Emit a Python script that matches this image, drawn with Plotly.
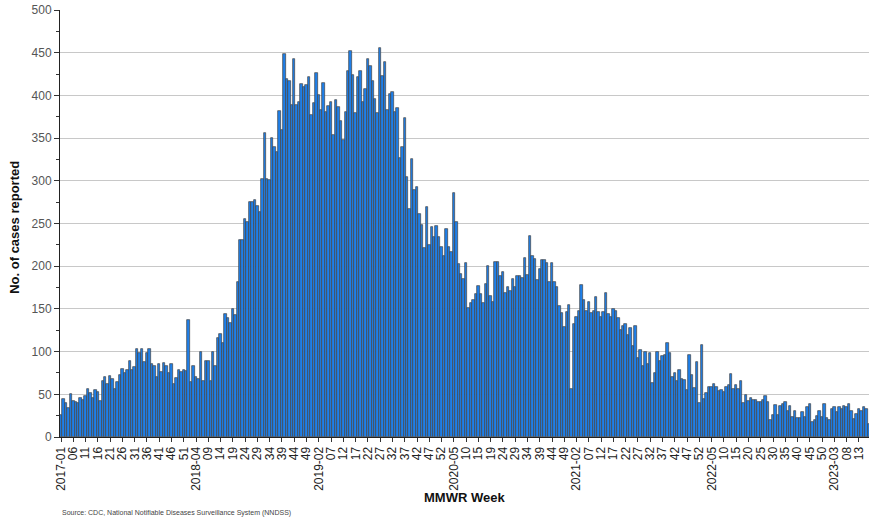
import plotly.graph_objects as go

# ---- data ----
years = [2017, 2018, 2019, 2020, 2021, 2022, 2023]
weeks_in_year = [52, 52, 52, 53, 52, 52, 17]

cases = [
    # 2017
    26, 45, 40, 34, 50, 42, 41, 40, 46, 43,
    48, 56, 52, 46, 55, 53, 42, 66, 70, 62,
    72, 68, 56, 64, 73, 80, 75, 78, 89, 78,
    82, 103, 98, 103, 88, 98, 103, 86, 83, 70,
    85, 76, 87, 83, 75, 86, 62, 69, 78, 76,
    79, 77,
    # 2018
    137, 64, 83, 70, 68, 100, 66, 89, 89, 66,
    100, 83, 116, 121, 110, 144, 139, 133, 150, 143,
    182, 231, 231, 255, 252, 275, 275, 277, 271, 263,
    302, 356, 302, 301, 350, 339, 334, 382, 360, 449,
    419, 417, 389, 443, 389, 392, 413, 410, 412, 421,
    377, 391,
    # 2019
    426, 401, 383, 414, 381, 388, 392, 354, 395, 386,
    370, 348, 380, 428, 452, 424, 379, 422, 428, 392,
    408, 443, 435, 417, 396, 379, 456, 423, 439, 383,
    402, 404, 381, 385, 327, 339, 373, 304, 267, 326,
    289, 293, 261, 248, 221, 269, 225, 246, 234, 247,
    234, 223,
    # 2020
    212, 244, 222, 217, 286, 252, 202, 191, 185, 204,
    151, 157, 161, 168, 177, 168, 157, 179, 200, 165,
    158, 205, 205, 189, 193, 169, 176, 171, 185, 176,
    188, 188, 186, 210, 190, 235, 212, 208, 184, 197,
    207, 207, 204, 181, 204, 182, 176, 153, 145, 129,
    146, 154, 56,
    # 2021
    132, 141, 147, 178, 161, 148, 158, 145, 148, 164,
    146, 141, 146, 169, 144, 140, 150, 148, 139, 125,
    130, 132, 119, 128, 107, 130, 92, 102, 83, 100,
    85, 98, 63, 75, 99, 89, 95, 96, 110, 98,
    70, 75, 65, 78, 68, 67, 55, 96, 73, 57,
    88, 40,
    # 2022
    108, 44, 51, 59, 59, 62, 59, 54, 55, 53,
    58, 61, 74, 56, 61, 56, 65, 40, 49, 42,
    46, 43, 43, 41, 41, 43, 48, 41, 20, 26,
    37, 26, 36, 39, 41, 31, 36, 24, 31, 22,
    22, 29, 24, 35, 39, 18, 20, 25, 30, 24,
    39, 22,
    # 2023
    20, 33, 35, 29, 35, 33, 36, 35, 39, 31,
    21, 27, 33, 30, 35, 33, 15,
]

# one tick label every 5th week, as printed on the chart
tick_labels = [
    "2017-01", "06", "11", "16", "21", "26", "31", "36", "41", "46", "51",
    "2018-04", "09", "14", "19", "24", "29", "34", "39", "44", "49",
    "2019-02", "07", "12", "17", "22", "27", "32", "37", "42", "47", "52",
    "2020-05", "10", "15", "19", "24", "29", "34", "39", "44", "49",
    "2021-02", "07", "12", "17", "22", "27", "32", "37", "42", "47", "52",
    "2022-05", "10", "15", "20", "25", "30", "35", "40", "45", "50",
    "2023-03", "08", "13",
]
tick_step = 5
source_note = "Source: CDC, National Notifiable Diseases Surveillance System (NNDSS)"

# ---- categories ----
categories = [f"{y}-{w:02d}" for y, n in zip(years, weeks_in_year) for w in range(1, n + 1)]
tickvals = categories[::tick_step][:len(tick_labels)]

FONT = "Liberation Sans, Arial, sans-serif"

fig = go.Figure(go.Bar(
    x=categories,
    y=cases,
    marker=dict(color="#1f7fe8", line=dict(color="#444444", width=0.7)),
    hoverinfo="x+y",
))

fig.update_layout(
    width=869, height=518,
    margin=dict(l=60, r=0, t=10, b=81, autoexpand=False),
    plot_bgcolor="white", paper_bgcolor="white",
    bargap=0,
    showlegend=False,
    font=dict(family=FONT, size=12, color="#333"),
    xaxis=dict(
        type="category",
        automargin=False,
        range=[-0.41, 329.1],
        tickmode="array", tickvals=tickvals, ticktext=tick_labels,
        tickangle=-90,
        ticks="outside", ticklen=4, tickcolor="#333",
        tickfont=dict(family=FONT, size=12, color="#222"),
        showline=True, linecolor="#222", linewidth=1,
        showgrid=False,
    ),
    yaxis=dict(
        automargin=False,
        range=[0, 500], dtick=50,
        ticks="outside", ticklen=5, tickcolor="#333",
        minor=dict(dtick=25, ticks="outside", ticklen=3, tickcolor="#333", showgrid=False),
        tickfont=dict(family=FONT, size=12, color="#555"),
        showline=True, linecolor="#222", linewidth=1,
        showgrid=True, gridcolor="#c8c8c8", gridwidth=1,
        zeroline=False,
    ),
    annotations=[
        dict(text="<b>No. of cases reported</b>", textangle=-90,
             xref="paper", yref="paper", x=-0.0556, y=0.49,
             xanchor="center", yanchor="middle", showarrow=False,
             font=dict(family=FONT, size=13, color="#111")),
        dict(text="<b>MMWR Week</b>",
             xref="paper", yref="paper", x=0.5, y=-0.141,
             xanchor="center", yanchor="middle", showarrow=False,
             font=dict(family=FONT, size=13, color="#111")),
        dict(text=source_note,
             xref="paper", yref="paper", x=0.0, y=-0.178,
             xanchor="left", yanchor="middle", showarrow=False,
             font=dict(family=FONT, size=7, color="#444")),
    ],
)

fig.write_html(
    "out.html",
    config={"displayModeBar": False},
    post_script="document.body.style.margin='0';document.body.style.overflow='hidden';",
)
